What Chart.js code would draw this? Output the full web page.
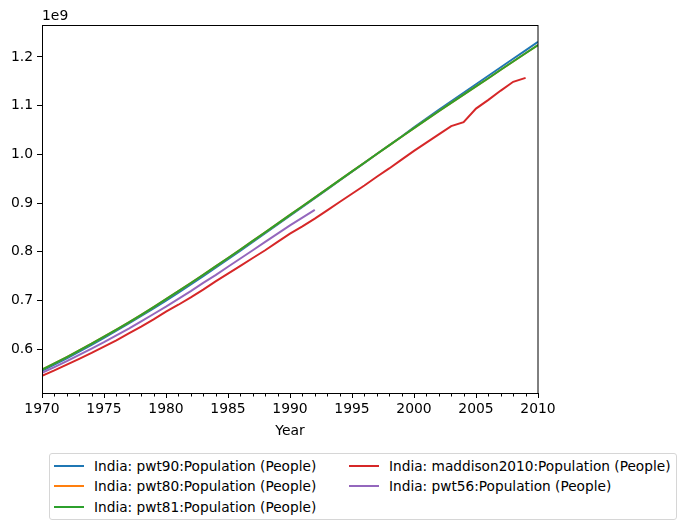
<!DOCTYPE html>
<html><head><meta charset="utf-8">
<script src="https://cdn.jsdelivr.net/npm/chart.js@4.4.1/dist/chart.umd.min.js"></script>
<style>
body{margin:0;background:#fff;}
#wrap{position:relative;width:686px;height:530px;}
#legend{position:absolute;left:49px;top:453px;width:628px;height:67px;border:1px solid #d6d6d6;border-radius:3px;box-sizing:border-box;font-family:"DejaVu Sans";font-size:13.7px;color:#000;background:#fff;}
.item{position:absolute;height:20px;line-height:20px;white-space:nowrap;}
.item .h{position:absolute;left:0;top:9px;width:30px;height:2px;}
.item .t{position:absolute;left:40px;top:0;}
</style></head>
<body>
<div id="wrap">
<canvas id="c" width="686" height="530"></canvas>
<div id="legend"></div>
</div>
<script>
// ---- data (population, in units of 1e9 people) ----
const years = [1970,1971,1972,1973,1974,1975,1976,1977,1978,1979,1980,1981,1982,1983,1984,1985,1986,1987,1988,1989,1990,1991,1992,1993,1994,1995,1996,1997,1998,1999,2000,2001,2002,2003,2004,2005,2006,2007,2008,2009,2010];
const pwt90 = [0.5552,0.5679,0.5810,0.5945,0.6085,0.6229,0.6376,0.6526,0.6679,0.6836,0.6996,0.7160,0.7327,0.7497,0.7670,0.7845,0.8022,0.8200,0.8379,0.8559,0.8739,0.8919,0.9100,0.9281,0.9462,0.9643,0.9825,1.0006,1.0187,1.0367,1.0556,1.0735,1.0913,1.1090,1.1265,1.1440,1.1614,1.1789,1.1963,1.2137,1.2310];
const pwt80 = [0.5575,0.5704,0.5836,0.5971,0.6110,0.6253,0.6400,0.6550,0.6704,0.6862,0.7024,0.7189,0.7356,0.7526,0.7698,0.7871,0.8046,0.8222,0.8399,0.8577,0.8755,0.8933,0.9112,0.9291,0.9470,0.9649,0.9828,1.0006,1.0184,1.0361,1.0537,1.0712,1.0885,1.1057,1.1227,1.1396,1.1563,1.1737,1.1907,1.2077,1.2246];
const pwt81 = [0.5575,0.5704,0.5836,0.5971,0.6110,0.6253,0.6400,0.6550,0.6704,0.6862,0.7024,0.7189,0.7356,0.7526,0.7698,0.7871,0.8046,0.8222,0.8399,0.8577,0.8755,0.8933,0.9112,0.9291,0.9470,0.9649,0.9828,1.0006,1.0184,1.0361,1.0537,1.0712,1.0885,1.1057,1.1227,1.1396,1.1563,1.1737,1.1907,1.2077,1.2246];
const maddison2010 = [0.545,0.556,0.568,0.580,0.592,0.605,0.618,0.632,0.646,0.661,0.677,0.691,0.706,0.722,0.739,0.755,0.771,0.787,0.803,0.820,0.837,0.852,0.868,0.885,0.902,0.919,0.936,0.954,0.971,0.989,1.007,1.024,1.041,1.058,1.066,1.094,1.112,1.131,1.149,1.157];
const pwt56 = [0.551,0.563,0.575,0.588,0.601,0.614,0.628,0.642,0.657,0.672,0.687,0.703,0.719,0.736,0.752,0.769,0.786,0.803,0.820,0.837,0.854,0.870,0.886];
const seriesNames = ["India: pwt90:Population (People)","India: pwt80:Population (People)","India: pwt81:Population (People)","India: maddison2010:Population (People)","India: pwt56:Population (People)"];
const xMajorTicks = [1970,1975,1980,1985,1990,1995,2000,2005,2010];
const yTicks = [0.6,0.7,0.8,0.9,1.0,1.1,1.2];
const axisTitleX = "Year";
const offsetText = "1e9";

const colors = ["#1f77b4","#ff7f0e","#2ca02c","#d62728","#9467bd"];
const allSeries = [pwt90,pwt80,pwt81,maddison2010,pwt56];
const FONT = "DejaVu Sans";

const datasets = allSeries.map((vals,i)=>({
  label: seriesNames[i],
  data: vals.map((v,j)=>({x:years[j], y:v})),
  borderColor: colors[i],
  backgroundColor: colors[i],
  borderWidth: 2,
  pointRadius: 0,
  tension: 0,
  fill: false,
  order: allSeries.length - i
}));

const framePlugin = {
  id:'frame',
  afterDraw(chart){
    const {ctx, chartArea:a, scales} = chart;
    ctx.save();
    ctx.strokeStyle='#000'; ctx.lineWidth=1;
    ctx.strokeRect(Math.round(a.left)+0.5, Math.round(a.top)+0.5, Math.round(a.right-a.left)-0.5, Math.round(a.bottom-a.top));
    const xs = scales.x;
    ctx.beginPath();
    years.forEach(y=>{
      if (xMajorTicks.includes(y)) return;
      const px = Math.round(xs.getPixelForValue(y))+0.5;
      ctx.moveTo(px, Math.round(a.bottom)+0.5);
      ctx.lineTo(px, Math.round(a.bottom)+3.5);
    });
    ctx.stroke();
    ctx.fillStyle='#000';
    ctx.font = '13.9px "'+FONT+'"';
    ctx.textBaseline='alphabetic';
    ctx.textAlign='left';
    ctx.fillText(offsetText, a.left, a.top-5);
    ctx.restore();
  }
};

new Chart(document.getElementById('c'), {
  type:'line',
  data:{datasets},
  options:{
    responsive:false,
    animation:false,
    layout:{padding:{top:25,right:148,left:0,bottom:0}},
    plugins:{legend:{display:false}, tooltip:{enabled:false}},
    scales:{
      x:{
        type:'linear', min:1970, max:2010,
        afterBuildTicks(s){ s.ticks = xMajorTicks.map(v=>({value:v})); },
        afterFit(s){ s.height = 137; },
        grid:{drawOnChartArea:false, tickLength:5, tickColor:'#000', tickWidth:1},
        border:{display:true,color:'#000',width:1},
        ticks:{color:'#000', font:{family:FONT,size:13.9}, padding:3, maxRotation:0, autoSkip:false, callback:(v)=>String(v)},
        title:{display:true,text:axisTitleX,color:'#000',font:{family:FONT,size:13.9},padding:{top:0,bottom:90}}
      },
      y:{
        type:'linear', min:0.5097, max:1.2657,
        afterBuildTicks(s){ s.ticks = yTicks.map(v=>({value:v})); },
        afterFit(s){ s.width = 42; },
        grid:{drawOnChartArea:false, tickLength:5, tickColor:'#000', tickWidth:1},
        border:{display:true,color:'#000',width:1},
        ticks:{color:'#000', font:{family:FONT,size:13.9}, padding:4, autoSkip:false, callback:(v)=>v.toFixed(1)}
      }
    }
  },
  plugins:[framePlugin]
});

const leg = document.getElementById('legend');
const pos = [[4,1.5],[4,22],[4,42.5],[299,1.5],[299,22]];
seriesNames.forEach((n,i)=>{
  const d = document.createElement('div');
  d.className='item';
  d.style.left = pos[i][0]+'px';
  d.style.top = pos[i][1]+'px';
  d.innerHTML = '<span class="h" style="background:'+colors[i]+'"></span><span class="t"></span>';
  d.querySelector('.t').textContent = n;
  leg.appendChild(d);
});
</script>
</body></html>
